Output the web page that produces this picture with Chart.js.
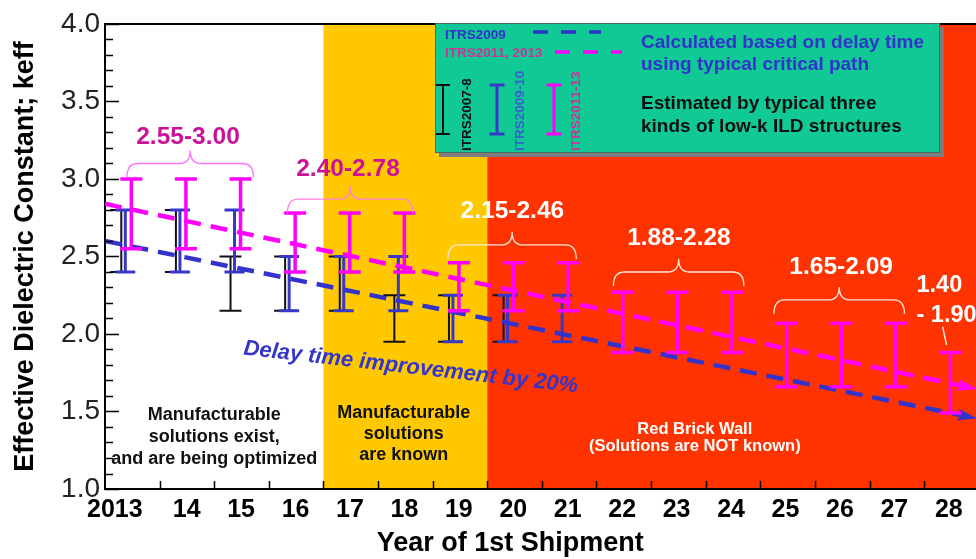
<!DOCTYPE html>
<html>
<head>
<meta charset="utf-8">
<script src="https://cdn.jsdelivr.net/npm/chart.js@4.4.1/dist/chart.umd.min.js"></script>
<style>
  html, body { margin: 0; padding: 0; background: #fff; }
</style>
</head>
<body>
<canvas id="chart" width="976" height="559"></canvas>
<script>
// x categories
const years = [2013, 2014, 2015, 2016, 2017, 2018, 2019, 2020, 2021, 2022, 2023, 2024, 2025, 2026, 2027, 2028];
const yearLabels = ["2013", "14", "15", "16", "17", "18", "19", "20", "21", "22", "23", "24", "25", "26", "27", "28"];

// error bars, ITRS2007-8 (black)
const itrs0708Years = [2013, 2014, 2015, 2016, 2017, 2018, 2019, 2020];
const itrs0708Low = [2.40, 2.40, 2.15, 2.15, 2.15, 1.95, 1.95, 1.95];
const itrs0708High = [2.80, 2.80, 2.50, 2.50, 2.50, 2.25, 2.25, 2.25];

// error bars, ITRS2009-10 (blue)
const itrs0910Years = [2013, 2014, 2015, 2016, 2017, 2018, 2019, 2020, 2021];
const itrs0910Low = [2.40, 2.40, 2.40, 2.15, 2.15, 2.15, 1.95, 1.95, 1.95];
const itrs0910High = [2.80, 2.80, 2.80, 2.50, 2.50, 2.50, 2.25, 2.25, 2.25];

// error bars, ITRS2011-13 (magenta)
const itrs1113Years = years;
const itrs1113Low = [2.55, 2.55, 2.55, 2.40, 2.40, 2.40, 2.15, 2.15, 2.15, 1.88, 1.88, 1.88, 1.66, 1.66, 1.66, 1.49];
const itrs1113High = [3.00, 3.00, 3.00, 2.78, 2.78, 2.78, 2.46, 2.46, 2.46, 2.27, 2.27, 2.27, 2.07, 2.07, 2.07, 1.88];

// delay-time trend lines (end points)
const trend2009X = [2012.5, 2028.4];
const trend2009Y = [2.60, 1.46];
const trend2011X = [2012.5, 2028.4];
const trend2011Y = [2.84, 1.65];

// background zones
const zoneStart = [2012.5, 2016.5, 2019.5];
const zoneEnd = [2016.5, 2019.5, 2028.5];
const zoneColors = ["#ffffff", "#ffc800", "#ff3300"];

// y ticks
const yMin = 1.0, yMax = 4.0, yStep = 0.5, yMinor = 0.1;

const FONT = '"Liberation Sans", Arial, Helvetica, sans-serif';
Chart.defaults.font.family = FONT;

function toPts(xs, ys) { return xs.map((x, i) => ({ x: x, y: ys[i] })); }
function toBars(xs, lo, hi) { return xs.map((x, i) => ({ x: x, y: hi[i], lo: lo[i] })); }

// annotations: position in data units (x year, y keff)
const rangeNotes = [
  { lines: ["2.55-3.00"], x: 2014.02, y: 3.27, color: "#cc1199", brace: [2012.9, 2015.22, 3.10], braceColor: "#ff70ff" },
  { lines: ["2.40-2.78"], x: 2016.95, y: 3.06, color: "#cc1199", brace: [2015.84, 2018.14, 2.87], braceColor: "#ff80e0" },
  { lines: ["2.15-2.46"], x: 2019.96, y: 2.795, color: "#ffffff", brace: [2018.78, 2021.13, 2.575], braceColor: "#ffe8dc" },
  { lines: ["1.88-2.28"], x: 2023.01, y: 2.62, color: "#ffffff", brace: [2021.81, 2024.20, 2.40], braceColor: "#ffe8dc" },
  { lines: ["1.65-2.09"], x: 2025.98, y: 2.43, color: "#ffffff", brace: [2024.75, 2027.14, 2.22], braceColor: "#ffe8dc" },
  { lines: ["1.40", "- 1.90"], x: 2027.36, y: 2.31, color: "#ffffff", gap: 30, align: "left", size: 23.5, leader: [2027.84, 2.045, 2027.91, 1.93] }
];
const zoneNotes = [
  { lines: ["Manufacturable", "solutions exist,", "and are being optimized"], x: 2014.5, y: 1.477, gap: 22, size: 18, color: "#111" },
  { lines: ["Manufacturable", "solutions", "are known"], x: 2017.97, y: 1.49, gap: 21, size: 18, color: "#111" },
  { lines: ["Red Brick Wall", "(Solutions are NOT known)"], x: 2023.3, y: 1.381, gap: 17, size: 16.5, color: "#ffffff" }
];

const zonePlugin = {
  id: "zones",
  beforeDraw(chart) {
    const { ctx, chartArea: a, scales: { x } } = chart;
    ctx.save();
    zoneStart.forEach((s, i) => {
      const x1 = Math.max(a.left, x.getPixelForValue(s));
      const x2 = Math.min(a.right, x.getPixelForValue(zoneEnd[i]));
      ctx.fillStyle = zoneColors[i];
      ctx.fillRect(x1, a.top, x2 - x1, a.bottom - a.top);
    });
    ctx.restore();
  }
};

function drawIBar(ctx, px, top, bot, cap) {
  ctx.beginPath();
  ctx.moveTo(px, top); ctx.lineTo(px, bot);
  ctx.moveTo(px - cap / 2, top); ctx.lineTo(px + cap / 2, top);
  ctx.moveTo(px - cap / 2, bot); ctx.lineTo(px + cap / 2, bot);
  ctx.stroke();
}

const barPlugin = {
  id: "errbars",
  afterDatasetDraw(chart, args) {
    const ds = chart.data.datasets[args.index];
    const { ctx, scales: { x, y } } = chart;
    ctx.save();
    if (ds.ibar) {
      ctx.strokeStyle = ds.borderColor;
      ctx.lineWidth = ds.ibar.width;
      ds.data.forEach(p => {
        const px = x.getPixelForValue(p.x) + ds.ibar.shift;
        drawIBar(ctx, px, y.getPixelForValue(p.y), y.getPixelForValue(p.lo), ds.ibar.cap);
      });
    }
    if (ds.arrow) {
      const pts = chart.getDatasetMeta(args.index).data;
      const a = pts[pts.length - 2], b = pts[pts.length - 1];
      const ang = Math.atan2(b.y - a.y, b.x - a.x);
      ctx.translate(b.x, b.y);
      ctx.rotate(ang);
      ctx.fillStyle = ds.borderColor;
      ctx.beginPath();
      ctx.moveTo(4, 0);
      ctx.lineTo(-16, -6);
      ctx.lineTo(-12, 0);
      ctx.lineTo(-16, 6);
      ctx.closePath();
      ctx.fill();
    }
    ctx.restore();
  }
};

function brace(ctx, x1, x2, yh, up, down) {
  const xm = (x1 + x2) / 2, r = 11;
  ctx.beginPath();
  ctx.moveTo(x1, yh + down);
  ctx.quadraticCurveTo(x1, yh, x1 + r, yh);
  ctx.lineTo(xm - r, yh);
  ctx.quadraticCurveTo(xm, yh, xm, yh - up);
  ctx.quadraticCurveTo(xm, yh, xm + r, yh);
  ctx.lineTo(x2 - r, yh);
  ctx.quadraticCurveTo(x2, yh, x2, yh + down);
  ctx.stroke();
}

const annotationPlugin = {
  id: "notes",
  afterDatasetsDraw(chart) {
    const { ctx, chartArea: a, scales: { x, y } } = chart;
    ctx.save();
    ctx.textAlign = "center";
    ctx.textBaseline = "middle";

    // inward axis ticks
    ctx.strokeStyle = "#000";
    ctx.lineWidth = 1.5;
    ctx.beginPath();
    for (let v = yMin; v <= yMax + 1e-6; v += yMinor) {
      const py = Math.round(y.getPixelForValue(v)) + 0.5;
      const major = Math.abs(v / yStep - Math.round(v / yStep)) < 1e-6;
      ctx.moveTo(a.left, py);
      ctx.lineTo(a.left + (major ? 14 : 8), py);
    }
    for (let i = 0; i < years.length - 1; i++) {
      const px = Math.round(x.getPixelForValue(years[i] + 0.5)) + 0.5;
      ctx.moveTo(px, a.bottom);
      ctx.lineTo(px, a.bottom - 8);
    }
    ctx.stroke();
    // top frame
    ctx.lineWidth = 2;
    ctx.beginPath();
    ctx.moveTo(a.left, a.top);
    ctx.lineTo(a.right, a.top);
    ctx.stroke();

    // range labels and braces
    rangeNotes.forEach(n => {
      ctx.fillStyle = n.color;
      ctx.font = "bold " + (n.size || 24.5) + "px " + FONT;
      ctx.textAlign = n.align || "center";
      const px = x.getPixelForValue(n.x), py = y.getPixelForValue(n.y);
      n.lines.forEach((t, i) => ctx.fillText(t, px, py + i * (n.gap || 0)));
      if (n.brace) {
        ctx.strokeStyle = n.braceColor;
        ctx.lineWidth = 1.3;
        brace(ctx, x.getPixelForValue(n.brace[0]), x.getPixelForValue(n.brace[1]), y.getPixelForValue(n.brace[2]), 13, 14);
      }
      if (n.leader) {
        ctx.strokeStyle = "#ffe8dc";
        ctx.lineWidth = 1.5;
        ctx.beginPath();
        ctx.moveTo(x.getPixelForValue(n.leader[0]), y.getPixelForValue(n.leader[1]));
        ctx.lineTo(x.getPixelForValue(n.leader[2]), y.getPixelForValue(n.leader[3]));
        ctx.stroke();
      }
    });
    ctx.textAlign = "center";

    // zone labels
    zoneNotes.forEach(n => {
      ctx.fillStyle = n.color;
      ctx.font = "bold " + n.size + "px " + FONT;
      const px = x.getPixelForValue(n.x), py = y.getPixelForValue(n.y);
      n.lines.forEach((t, i) => ctx.fillText(t, px, py + i * n.gap));
    });

    // delay time note
    ctx.save();
    ctx.translate(x.getPixelForValue(2018.1), y.getPixelForValue(1.784));
    ctx.rotate(6.5 * Math.PI / 180);
    ctx.fillStyle = "#3535c8";
    ctx.font = "italic bold 22px " + FONT;
    ctx.fillText("Delay time improvement by 20%", 0, 0);
    ctx.restore();

    // x axis title
    ctx.fillStyle = "#000";
    ctx.font = "bold 27px " + FONT;
    ctx.fillText("Year of 1st Shipment", x.getPixelForValue(2019.92), a.bottom + 55);
    ctx.restore();
  },
  afterDraw(chart) {
    const ctx = chart.ctx;
    ctx.save();
    // legend box
    ctx.fillStyle = "#7d7d7d";
    ctx.fillRect(439, 27, 505, 130);
    ctx.fillStyle = "#10c994";
    ctx.fillRect(435, 23, 505, 130);
    ctx.strokeStyle = "#4a6a60";
    ctx.lineWidth = 1;
    ctx.strokeRect(435.5, 23.5, 504, 129);

    ctx.textBaseline = "middle";
    ctx.textAlign = "left";
    ctx.font = "bold 13.5px " + FONT;
    ctx.fillStyle = "#3333cc";
    ctx.fillText("ITRS2009", 445, 35);
    ctx.fillStyle = "#cc3399";
    ctx.fillText("ITRS2011, 2013", 445, 53);

    ctx.lineWidth = 3.5;
    ctx.setLineDash([15, 13]);
    ctx.strokeStyle = "#3333cc";
    ctx.beginPath(); ctx.moveTo(533, 32); ctx.lineTo(601, 32); ctx.stroke();
    ctx.strokeStyle = "#ff00ff";
    ctx.beginPath(); ctx.moveTo(555, 52); ctx.lineTo(622, 52); ctx.stroke();
    ctx.setLineDash([]);

    ctx.strokeStyle = "#111"; ctx.lineWidth = 2;
    drawIBar(ctx, 443, 85, 134, 14);
    ctx.strokeStyle = "#3838c8"; ctx.lineWidth = 3;
    drawIBar(ctx, 497, 85, 134, 15);
    ctx.strokeStyle = "#ff00ff"; ctx.lineWidth = 3;
    drawIBar(ctx, 554, 85, 134, 15);

    const rot = [["ITRS2007-8", 467, "#111"], ["ITRS2009-10", 520, "#3a5fd0"], ["ITRS2011-13", 576, "#cc3399"]];
    ctx.font = "bold 13.5px " + FONT;
    rot.forEach(r => {
      ctx.save();
      ctx.translate(r[1], 151);
      ctx.rotate(-Math.PI / 2);
      ctx.fillStyle = r[2];
      ctx.fillText(r[0], 0, 0);
      ctx.restore();
    });

    ctx.font = "bold 19px " + FONT;
    ctx.fillStyle = "#3333cc";
    ctx.fillText("Calculated based on delay time", 641, 43);
    ctx.fillText("using typical critical path", 641, 65);
    ctx.fillStyle = "#111";
    ctx.fillText("Estimated by typical three", 641, 104);
    ctx.fillText("kinds of low-k ILD structures", 641, 127);
    ctx.restore();
  }
};

new Chart(document.getElementById("chart"), {
  type: "scatter",
  data: {
    datasets: [
      {
        label: "ITRS2007-8",
        data: toBars(itrs0708Years, itrs0708Low, itrs0708High),
        borderColor: "#111111",
        pointRadius: 0,
        ibar: { width: 2, cap: 22, shift: -11 },
        order: 5
      },
      {
        label: "ITRS2009-10",
        data: toBars(itrs0910Years, itrs0910Low, itrs0910High),
        borderColor: "#3838c8",
        pointRadius: 0,
        ibar: { width: 3, cap: 20, shift: -7 },
        order: 4
      },
      {
        label: "ITRS2009",
        data: toPts(trend2009X, trend2009Y),
        showLine: true,
        borderColor: "#3333cc",
        borderWidth: 4.5,
        borderDash: [17, 10],
        pointRadius: 0,
        arrow: true,
        order: 3
      },
      {
        label: "ITRS2011, 2013",
        data: toPts(trend2011X, trend2011Y),
        showLine: true,
        borderColor: "#ff00ff",
        borderWidth: 4.5,
        borderDash: [17, 10],
        pointRadius: 0,
        arrow: true,
        order: 2
      },
      {
        label: "ITRS2011-13",
        data: toBars(itrs1113Years, itrs1113Low, itrs1113High),
        borderColor: "#ff00ff",
        pointRadius: 0,
        ibar: { width: 3.5, cap: 22, shift: -1 },
        order: 1
      }
    ]
  },
  options: {
    responsive: false,
    animation: false,
    events: [],
    layout: { padding: { top: 24, right: 0, left: 0, bottom: 0 } },
    plugins: { legend: { display: false }, tooltip: { enabled: false } },
    scales: {
      x: { type: "linear", display: false, min: 2012.5, max: 2028.45 },
      xc: {
        type: "category",
        position: "bottom",
        labels: yearLabels,
        offset: true,
        ticks: {
          color: "#000",
          font: { size: 25, weight: "bold" },
          padding: 6,
          maxRotation: 0,
          autoSkip: false,
          // first label sits left of its slot in the original
          callback: (v, i) => (i === 0 ? yearLabels[i] + "     " : yearLabels[i])
        },
        grid: { display: false, drawTicks: false },
        border: { display: true, color: "#000", width: 2 },
        afterFit: s => { s.height = 70; }
      },
      y: {
        min: yMin,
        max: yMax,
        ticks: { stepSize: yStep, color: "#222", font: { size: 28 }, padding: 5, callback: v => v.toFixed(1) },
        grid: { display: false, drawTicks: false },
        border: { display: true, color: "#000", width: 2 },
        title: {
          display: true,
          text: "Effective Dielectric Constant; keff",
          color: "#000",
          font: { size: 27, weight: "bold" },
          padding: { top: 9, bottom: 0 }
        },
        afterFit: s => { s.width = 105; }
      }
    }
  },
  plugins: [zonePlugin, barPlugin, annotationPlugin]
});
</script>
</body>
</html>
